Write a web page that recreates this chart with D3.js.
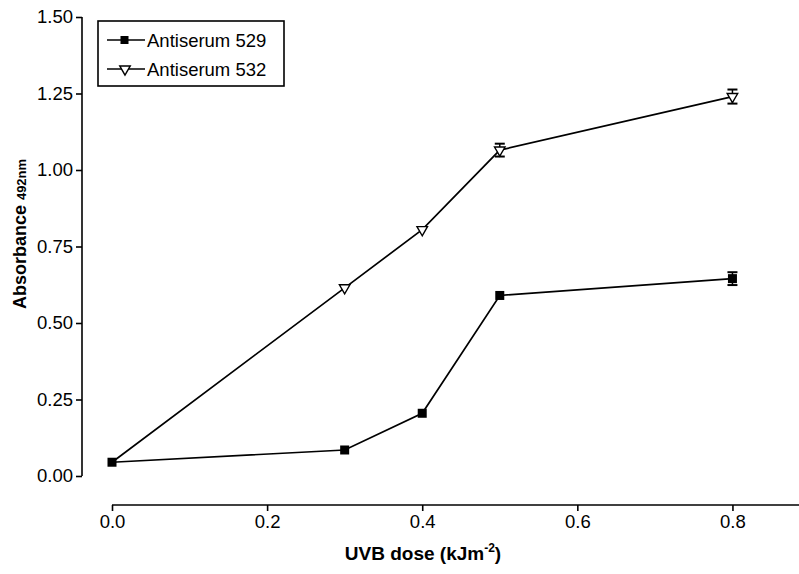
<!DOCTYPE html>
<html>
<head>
<meta charset="utf-8">
<script src="https://cdn.jsdelivr.net/npm/d3@7"></script>
<style>
  body { margin: 0; background: #fff; }
  svg { font-family: "Liberation Sans", Arial, sans-serif; }
</style>
</head>
<body>
<div id="app"></div>
<script>
// values
const doses = [0.0, 0.3, 0.4, 0.5, 0.8];
const serum529 = [0.045, 0.085, 0.205, 0.59, 0.645];
const err529 = [0, 0, 0, 0, 0.021];
const serum532 = [0.045, 0.615, 0.805, 1.065, 1.24];
const err532 = [0, 0, 0, 0.021, 0.023];
const xTicks = [0.0, 0.2, 0.4, 0.6, 0.8];
const yTicks = [0.0, 0.25, 0.5, 0.75, 1.0, 1.25, 1.5];
const seriesNames = ["Antiserum 529", "Antiserum 532"];

const w = 799, h = 574;
const svg = d3.select("#app").append("svg")
  .attr("width", w).attr("height", h)
  .style("background-color", "#fff");

const xScale = d3.scaleLinear().domain([0, 0.9]).range([112, 810]);
const yScale = d3.scaleLinear().domain([0, 1.5]).range([476, 17]);

// axes
const yAxis = d3.axisLeft(yScale).tickValues(yTicks)
  .tickFormat(d3.format(".2f")).tickSizeOuter(0).tickSize(6).tickPadding(3);
const xAxis = d3.axisBottom(xScale).tickValues(xTicks)
  .tickFormat(d3.format(".1f")).tickSizeOuter(0).tickSize(6).tickPadding(4);

const gy = svg.append("g").attr("transform", "translate(82,0)").call(yAxis);
const gx = svg.append("g").attr("transform", "translate(0,505)").call(xAxis);
[gx, gy].forEach(g => {
  g.selectAll("path, line").attr("stroke", "#000").attr("stroke-width", 1.6);
  g.selectAll("text").attr("fill", "#000").style("font-size", "18.5px");
});
gy.select(".domain").attr("d", "M0," + yScale(1.5) + "V" + yScale(0));
gx.select(".domain").attr("d", "M" + xScale(0) + ",0H" + w);

// axis titles
const yt = svg.append("text")
  .attr("transform", "translate(26,234) rotate(-90)")
  .attr("text-anchor", "middle")
  .style("font-weight", "bold").style("font-size", "18px");
yt.append("tspan").text("Absorbance ");
yt.append("tspan").style("font-size", "13px").text("492nm");

const xt = svg.append("text")
  .attr("x", 423).attr("y", 560)
  .attr("text-anchor", "middle")
  .style("font-weight", "bold").style("font-size", "19px");
xt.append("tspan").text("UVB dose (kJm");
xt.append("tspan").attr("dy", -8).style("font-size", "12px").text("-2");
xt.append("tspan").attr("dy", 8).text(")");

const line = d3.line().x(d => xScale(d.x)).y(d => yScale(d.y));
const tri = d3.symbol().type(d3.symbolTriangle).size(48);

function drawSeries(vals, errs, kind) {
  const pts = doses.map((x, i) => ({x: x, y: vals[i], e: errs[i]}));
  const g = svg.append("g");
  g.append("path").datum(pts).attr("d", line)
    .attr("fill", "none").attr("stroke", "#000").attr("stroke-width", 1.7);
  const eb = g.selectAll(".err").data(pts.filter(d => d.e > 0)).enter().append("g");
  eb.append("line")
    .attr("x1", d => xScale(d.x)).attr("x2", d => xScale(d.x))
    .attr("y1", d => yScale(d.y - d.e)).attr("y2", d => yScale(d.y + d.e))
    .attr("stroke", "#000").attr("stroke-width", 1.5);
  [-1, 1].forEach(s => {
    eb.append("line")
      .attr("x1", d => xScale(d.x) - 5).attr("x2", d => xScale(d.x) + 5)
      .attr("y1", d => yScale(d.y + s * d.e)).attr("y2", d => yScale(d.y + s * d.e))
      .attr("stroke", "#000").attr("stroke-width", 2);
  });
  if (kind === "square") {
    g.selectAll(".pt").data(pts).enter().append("rect")
      .attr("x", d => xScale(d.x) - 4.5).attr("y", d => yScale(d.y) - 4.5)
      .attr("width", 9).attr("height", 9).attr("fill", "#000");
  } else {
    // first point is hidden under the square in the original
    g.selectAll(".pt").data(pts.slice(1)).enter().append("path")
      .attr("d", tri)
      .attr("transform", d => "translate(" + xScale(d.x) + "," + yScale(d.y) + ") rotate(180)")
      .attr("fill", "#fff").attr("stroke", "#000").attr("stroke-width", 1.4);
  }
}
drawSeries(serum532, err532, "triangle");
drawSeries(serum529, err529, "square");

// legend
const legend = svg.append("g");
legend.append("rect")
  .attr("x", 98).attr("y", 21).attr("width", 186).attr("height", 65)
  .attr("fill", "#fff").attr("stroke", "#000").attr("stroke-width", 1.6);
seriesNames.forEach((name, i) => {
  const yy = 40 + i * 29;
  legend.append("line").attr("x1", 107).attr("x2", 145)
    .attr("y1", yy).attr("y2", yy).attr("stroke", "#000").attr("stroke-width", 1.6);
  if (i === 0) {
    legend.append("rect").attr("x", 120.5).attr("y", yy - 4)
      .attr("width", 8).attr("height", 8).attr("fill", "#000");
  } else {
    legend.append("path").attr("d", tri)
      .attr("transform", "translate(125," + yy + ") rotate(180)")
      .attr("fill", "#fff").attr("stroke", "#000").attr("stroke-width", 1.4);
  }
  legend.append("text").attr("x", 147).attr("y", yy + 7)
    .style("font-size", "18.5px").text(name);
});
</script>
</body>
</html>
